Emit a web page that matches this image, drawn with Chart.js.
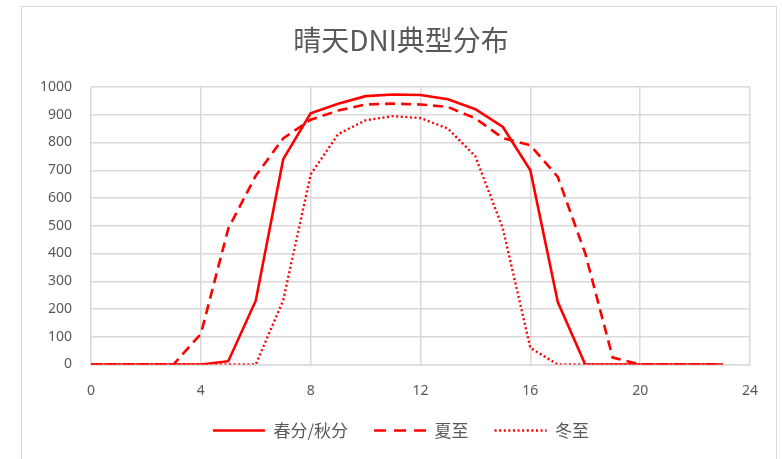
<!DOCTYPE html>
<html>
<head>
<meta charset="utf-8">
<script src="https://cdn.jsdelivr.net/npm/chart.js@4"></script>
<style>
  html, body { margin:0; padding:0; background:#fff; }
  #wrap { position:relative; width:782px; height:459px; }
  #frame { position:absolute; left:21px; top:6px; width:756px; height:470px; border:1px solid #d9d9d9; box-sizing:border-box; }
  #dni { position:absolute; left:0; top:0; }
</style>
</head>
<body>
<div id="wrap">
  <div id="frame"></div>
  <canvas id="dni" width="782" height="459"></canvas>
</div>
<script>
// hourly clear-sky DNI (W/m2), hours 0..23
const hours = [0,1,2,3,4,5,6,7,8,9,10,11,12,13,14,15,16,17,18,19,20,21,22,23];
const equinox = [0,0,0,0,0,12,230,740,905,940,967,973,971,956,920,856,700,225,0,0,0,0,0,0];
const summer  = [0,0,0,0,110,490,680,815,882,915,937,940,937,928,887,816,790,676,400,25,0,0,0,0];
const winter  = [0,0,0,0,0,0,0,231,685,830,880,895,888,850,750,490,60,0,0,0,0,0,0,0];
const xTicks = [0,4,8,12,16,20,24];
const seriesNames = ['春分/秋分','夏至','冬至'];

const red = '#ff0000';
const grey = '#595959';
const pts = arr => hours.map((h,i)=>({x:h, y:arr[i]}));
// legend swatches use slightly longer dashes than the plotted lines
const legendDash = [[], [12,8], [2,2.6]];

const ctx = document.getElementById('dni').getContext('2d');
new Chart(ctx, {
  type:'line',
  data:{
    datasets:[
      {label:seriesNames[0], data:pts(equinox), borderColor:red, borderWidth:2.6, borderDash:[]},
      {label:seriesNames[1], data:pts(summer),  borderColor:red, borderWidth:2.6, borderDash:[10,6]},
      {label:seriesNames[2], data:pts(winter),  borderColor:red, borderWidth:2.4, borderDash:[2,2.6]}
    ]
  },
  options:{
    responsive:false,
    animation:false,
    layout:{padding:{left:20, right:0, top:0, bottom:10}},
    elements:{point:{radius:0}, line:{tension:0, fill:false}},
    plugins:{
      title:{display:true, text:'晴天DNI典型分布', color:grey,
        font:{family:'"Noto Sans CJK SC", "Noto Sans", sans-serif', size:28, weight:'normal', lineHeight:1.2},
        padding:{top:24, bottom:29.4}},
      legend:{position:'bottom',
        labels:{usePointStyle:true, pointStyle:'line', pointStyleWidth:52, padding:26, color:grey,
          font:{family:'"Noto Sans CJK SC", sans-serif', size:17},
          generateLabels: chart => {
            const items = Chart.defaults.plugins.legend.labels.generateLabels(chart);
            items.forEach(it => {
              const ds = chart.data.datasets[it.datasetIndex];
              it.lineDash = legendDash[it.datasetIndex];
              it.lineWidth = ds.borderWidth;
              it.strokeStyle = ds.borderColor;
            });
            return items;
          }}},
      tooltip:{enabled:false}
    },
    scales:{
      x:{type:'linear', min:0, max:24,
        afterBuildTicks: ax => { ax.ticks = xTicks.map(v=>({value:v})); },
        afterFit: ax => { ax.height = 31.5; },
        grid:{color:'#d9d9d9', lineWidth:1.5, drawTicks:false},
        border:{color:'#d9d9d9', width:1.5},
        ticks:{color:grey, padding:18, font:{family:'"Noto Sans", sans-serif', size:14}}},
      y:{min:0, max:1000,
        afterFit: ax => { ax.width = 71; },
        grid:{color:'#d9d9d9', lineWidth:1.5, drawTicks:false},
        border:{display:false},
        ticks:{stepSize:100, color:grey, padding:19, callback: v => String(v),
          font:{family:'"Noto Sans", sans-serif', size:14}}},
      // empty right-hand gutter so the plot ends short of the frame
      y2:{position:'right', min:0, max:1000,
        afterFit: ax => { ax.width = 32; },
        grid:{display:false}, border:{display:false}, ticks:{display:false}}
    }
  }
});
</script>
</body>
</html>
